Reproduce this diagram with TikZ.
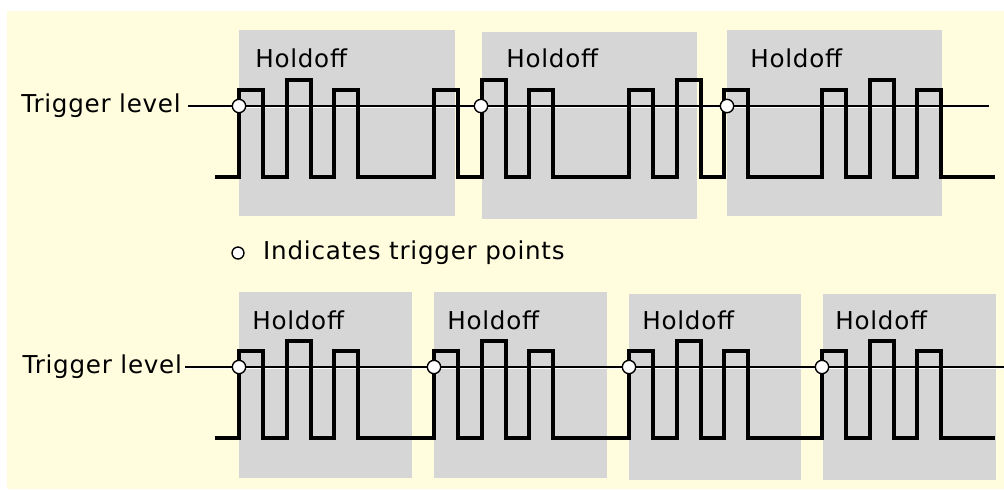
\documentclass[tikz,border=0pt]{standalone}
\usepackage{fontspec}
\setmainfont[LetterSpace=3]{DejaVu Sans}
\usepackage{xcolor}
\usepackage{tikz}
\usetikzlibrary{positioning}
\definecolor{pYellow}{HTML}{FFFDDE}
\definecolor{pGray}{HTML}{D6D6D6}

\begin{document}
\begin{tikzpicture}[x=0.025cm, y=-0.025cm, font=\fontsize{17.5}{21}\selectfont,
  trig/.style={circle, draw=black, fill=white, line width=1pt, inner sep=0pt, minimum size=9.5pt},
  hold/.style={anchor=base west, inner sep=0pt},
  lvl/.style={inner sep=0pt},
  trigline/.style={line width=0.9pt, postaction={draw=white, line width=0.6pt, transform canvas={yshift=-1pt}}},
  pulse/.style={line width=3.3pt, line join=miter}]
\useasboundingbox (0,0) rectangle (1004,489);
\fill[pYellow] (7,11) rectangle (1004,489);
\foreach \a/\t/\b/\u in {239/30/455/216, 482/32/697/219, 727/30/942/216, 239/292/412/478, 434/292/607/478, 629/294/801/480, 823/294/996/480}
  \fill[pGray] (\a,\t) rectangle (\b,\u);
\foreach \x [count=\i] in {255,506,750} \node[hold] (holdTop\i) at (\x,67) {Holdoff};
\foreach \x [count=\i] in {252,447,642,835} \node[hold] (holdBot\i) at (\x,329) {Holdoff};
\coordinate (lvlTopA) at (188,106);
\coordinate (lvlTopB) at (989,106);
\coordinate (lvlBotA) at (185,367);
\coordinate (lvlBotB) at (1004,367);
\node[lvl, left=5pt of lvlTopA] (lvlTop) {Trigger level};
\node[lvl, left=2pt of lvlBotA] (lvlBot) {Trigger level};
\draw[trigline] (lvlTopA) -- (lvlTopB);
\draw[trigline] (lvlBotA) -- (lvlBotB);
\foreach \r in {106,367}
  \draw[pulse] (215,\r+71) \foreach \b in {239,434,629,822} {
    \foreach \o/\h in {0/16,48/26,95/16} { -- (\b+\o,\r+71) |- (\b+\o+24,\r-\h) -- (\b+\o+24,\r+71) }
  } -- (995,\r+71);
\foreach \x [count=\i] in {239,481,727} \node[trig] (ptTop\i) at (\x,106) {};
\foreach \x [count=\i] in {239,434,629,822} \node[trig] (ptBot\i) at (\x,367) {};
\node[trig, minimum size=8.5pt] (legPt) at (238,253) {};
\node[lvl, right=13pt of legPt] (legTxt) {Indicates trigger points};
\end{tikzpicture}
\end{document}
